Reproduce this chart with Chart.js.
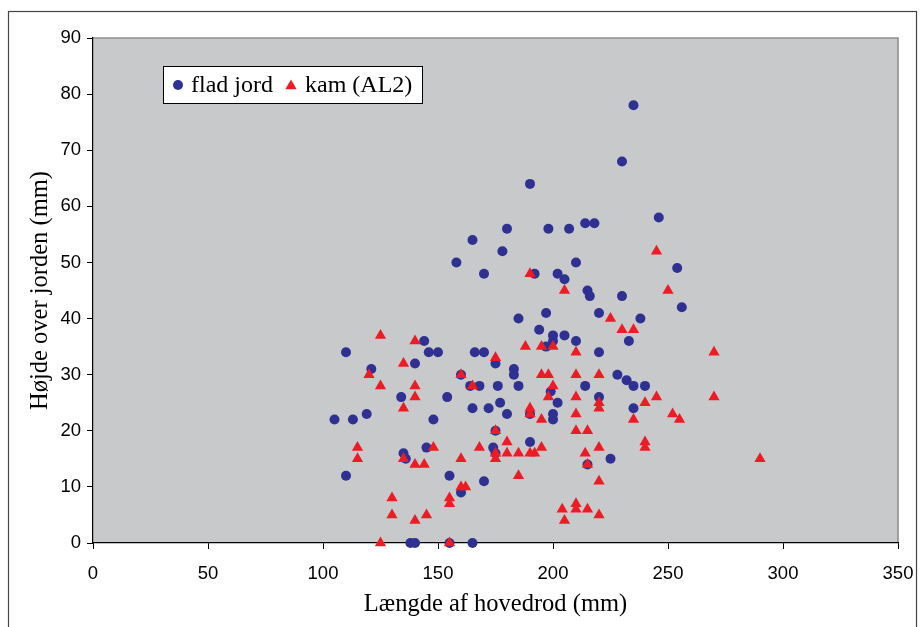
<!DOCTYPE html>
<html>
<head>
<meta charset="utf-8">
<script src="https://cdn.jsdelivr.net/npm/chart.js@4/dist/chart.umd.min.js"></script>
<style>
html,body{margin:0;padding:0;background:#fff;}
#wrap{width:920px;height:627px;position:relative;}
</style>
</head>
<body>
<div id="wrap"><canvas id="c" width="920" height="627"></canvas></div>
<script>
// ---- data ----
const seriesNames = ["flad jord", "kam (AL2)"];
const fladX = [105,110,110,113,119,121,134,135,136,138,140,140,144,145,146,148,150,154,155,155,
  158,160,160,164,165,165,165,166,168,170,170,170,172,174,175,175,175,176,177,178,
  180,180,183,183,185,185,190,190,190,192,194,197,197,198,199,200,200,200,200,202,
  202,205,205,207,210,210,214,214,215,216,215,218,220,220,220,225,228,230,230,232,
  233,235,235,235,238,240,246,254,256];
const fladY = [22,34,12,22,23,31,26,16,15,0,0,32,36,17,34,22,34,26,12,0,
  50,30,9,28,54,24,0,34,28,34,48,11,24,17,32,20,16,28,25,52,
  56,23,31,30,40,28,64,23,18,48,38,41,35,56,27,37,36,23,22,48,
  25,47,37,56,50,36,57,28,45,44,14,57,41,34,26,15,30,68,44,29,
  36,78,28,24,40,28,58,49,42];
const kamX = [115,115,120,125,125,125,130,130,135,135,135,140,140,140,140,140,144,145,148,155,
  155,155,160,160,160,162,165,168,175,175,175,175,180,180,185,185,188,190,190,190,
  190,192,195,195,195,195,198,198,200,200,204,205,205,210,210,210,210,210,210,210,
  214,215,215,215,220,220,220,220,220,220,225,230,235,235,240,240,240,245,245,250,
  252,255,270,270,290];
const kamY = [17,15,30,37,28,0,8,5,32,24,15,36,28,26,14,4,14,5,17,8,
  7,0,30,15,10,10,28,17,33,20,16,15,18,16,16,12,35,48,24,23,
  16,16,35,30,22,17,30,26,35,28,6,45,4,34,30,26,23,20,7,6,
  16,20,14,6,30,25,24,17,11,5,40,38,38,22,25,18,17,52,26,45,
  23,22,34,26,15];
const xTicks = [0,50,100,150,200,250,300,350];
const yTicks = [0,10,20,30,40,50,60,70,80,90];
const xTitle = "Længde af hovedrod (mm)";
const yTitle = "Højde over jorden (mm)";

const BLUE = "#2e3192";
const RED = "#ed1c24";
const PLOT_BG = "#c8c9cb";

function pts(xs, ys){ return xs.map((x,i)=>({x:x, y:ys[i]})); }

const bgPlugin = {
  id: "bg",
  beforeDraw(chart){
    const ctx = chart.ctx, a = chart.chartArea;
    ctx.save();
    ctx.fillStyle = "#fff";
    ctx.fillRect(0,0,chart.width,chart.height);
    ctx.strokeStyle = "#444";
    ctx.lineWidth = 1.2;
    ctx.strokeRect(8.5, 11.5, 908, 700);
    ctx.fillStyle = PLOT_BG;
    ctx.fillRect(a.left, a.top, a.right - a.left, a.bottom - a.top);
    ctx.strokeStyle = "#8e8e8e";
    ctx.lineWidth = 1.6;
    ctx.beginPath();
    ctx.moveTo(a.left, a.top);
    ctx.lineTo(a.right, a.top);
    ctx.lineTo(a.right, a.bottom);
    ctx.stroke();
    ctx.restore();
  }
};

const legendPlugin = {
  id: "boxLegend",
  afterDraw(chart){
    const ctx = chart.ctx;
    const x0 = 163.5, y0 = 66.5, w = 259, h = 37;
    ctx.save();
    ctx.fillStyle = "#fff";
    ctx.fillRect(x0, y0, w, h);
    ctx.strokeStyle = "#000";
    ctx.lineWidth = 1;
    ctx.strokeRect(x0, y0, w, h);
    const cy = y0 + h/2;
    ctx.font = "24px 'Liberation Serif', 'Times New Roman', serif";
    ctx.textBaseline = "middle";
    const ds = chart.data.datasets;
    ctx.fillStyle = ds[0].backgroundColor;
    ctx.beginPath(); ctx.arc(178, cy, 5, 0, Math.PI*2); ctx.fill();
    ctx.fillStyle = "#000";
    ctx.fillText(ds[0].label, 191, cy + 1);
    ctx.fillStyle = ds[1].backgroundColor;
    const r = 6.5, tx = 291, ty = cy + 1;
    ctx.beginPath();
    ctx.moveTo(tx, ty - r);
    ctx.lineTo(tx + r*0.866, ty + r/2);
    ctx.lineTo(tx - r*0.866, ty + r/2);
    ctx.closePath(); ctx.fill();
    ctx.fillStyle = "#000";
    ctx.fillText(ds[1].label, 305, cy + 1);
    ctx.restore();
  }
};

const tickFont = {family: "'Liberation Sans', Arial, sans-serif", size: 18.5};
const titleFont = {family: "'Liberation Serif', 'Times New Roman', serif", size: 24.5};

new Chart(document.getElementById("c"), {
  type: "scatter",
  data: {
    datasets: [
      {label: seriesNames[0], data: pts(fladX, fladY), backgroundColor: BLUE, borderColor: BLUE,
       pointStyle: "circle", pointRadius: 5, pointBorderWidth: 0, pointHoverRadius: 5, order: 1, clip: false},
      {label: seriesNames[1], data: pts(kamX, kamY), backgroundColor: RED, borderColor: RED,
       pointStyle: "triangle", pointRadius: 6.5, pointBorderWidth: 0, pointHoverRadius: 6.5, order: 0, clip: false}
    ]
  },
  options: {
    responsive: false,
    devicePixelRatio: 1,
    animation: false,
    events: [],
    layout: {padding: {top: 38, right: 22, left: 0, bottom: 0}},
    plugins: {legend: {display: false}, tooltip: {enabled: false}},
    scales: {
      x: {
        type: "linear", min: 0, max: 350,
        afterBuildTicks(s){ s.ticks = xTicks.map(v=>({value:v})); },
        afterFit(s){ s.height = 84; s.paddingLeft = 0; s.paddingRight = 0; },
        grid: {drawOnChartArea: false, drawTicks: true, tickLength: 6, color: "#000", lineWidth: 1},
        border: {display: true, color: "#000", width: 1.2},
        ticks: {color: "#000", font: tickFont, padding: 14, maxRotation: 0, autoSkip: false},
        title: {display: true, text: xTitle, color: "#000", font: titleFont, padding: {top: 0, bottom: 8}}
      },
      y: {
        type: "linear", min: 0, max: 90,
        afterBuildTicks(s){ s.ticks = yTicks.map(v=>({value:v})); },
        afterFit(s){ s.width = 93; s.paddingTop = 0; s.paddingBottom = 0; },
        grid: {drawOnChartArea: false, drawTicks: true, tickLength: 6, color: "#000", lineWidth: 1},
        border: {display: true, color: "#000", width: 1.2},
        ticks: {color: "#000", font: tickFont, padding: 6, autoSkip: false},
        title: {display: true, text: yTitle, color: "#000", font: titleFont, padding: {top: 26, bottom: 0}}
      }
    }
  },
  plugins: [bgPlugin, legendPlugin]
});
</script>
</body>
</html>
